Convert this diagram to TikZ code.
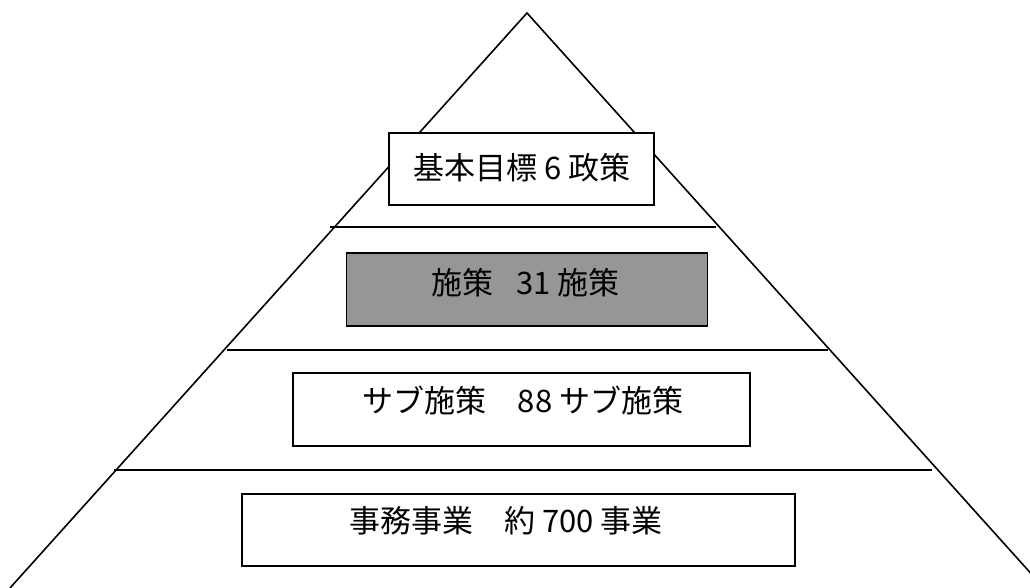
\documentclass[tikz,border=0pt]{standalone}
\usepackage{fontspec}
\newfontfamily\jp{Noto Sans CJK JP}
\definecolor{boxgray}{RGB}{150,150,150}
\begin{document}
\begin{tikzpicture}[x=1pt,y=-1pt,
  edge/.style={line width=1.6pt,black},
  tier/.style={draw=black,line width=1.6pt,rectangle,inner sep=0pt},
  lbl/.style={font=\jp\fontsize{31}{36}\selectfont,inner sep=0pt,anchor=center}]
\useasboundingbox (0,0) rectangle (1030,588);
\clip (0,0) rectangle (1030,588);
\coordinate (apex) at (527,13);
\coordinate (bl) at (10,588);
\coordinate (br) at (1044,588);
\draw[edge] (bl) -- (apex) -- (br);
\coordinate (h1l) at (330,227); \coordinate (h1r) at (716,227);
\coordinate (h2l) at (227,350); \coordinate (h2r) at (828,350);
\coordinate (h3l) at (114,470); \coordinate (h3r) at (932,470);
\draw[edge] (h1l) -- (h1r);
\draw[edge] (h2l) -- (h2r);
\draw[edge] (h3l) -- (h3r);
\node[tier,fill=white,minimum width=265pt,minimum height=72pt] (b1) at (521.5,169) {};
\node[tier,fill=boxgray,minimum width=361pt,minimum height=73pt] (b2) at (527,289.5) {};
\node[tier,fill=white,minimum width=457pt,minimum height=73pt] (b3) at (521.5,409.5) {};
\node[tier,fill=white,minimum width=553pt,minimum height=72pt] (b4) at (518.5,530) {};
\node[lbl] (t1) at (522,167.5) {基本目標 6 政策};
\node[lbl] (t2) at (525.5,282.5) {施策\hspace{0.5em} 31 施策};
\node[lbl] (t3) at (523,400) {サブ施策　88 サブ施策};
\node[lbl] (t4) at (506,521) {事務事業　約 700 事業};
\end{tikzpicture}
\end{document}
